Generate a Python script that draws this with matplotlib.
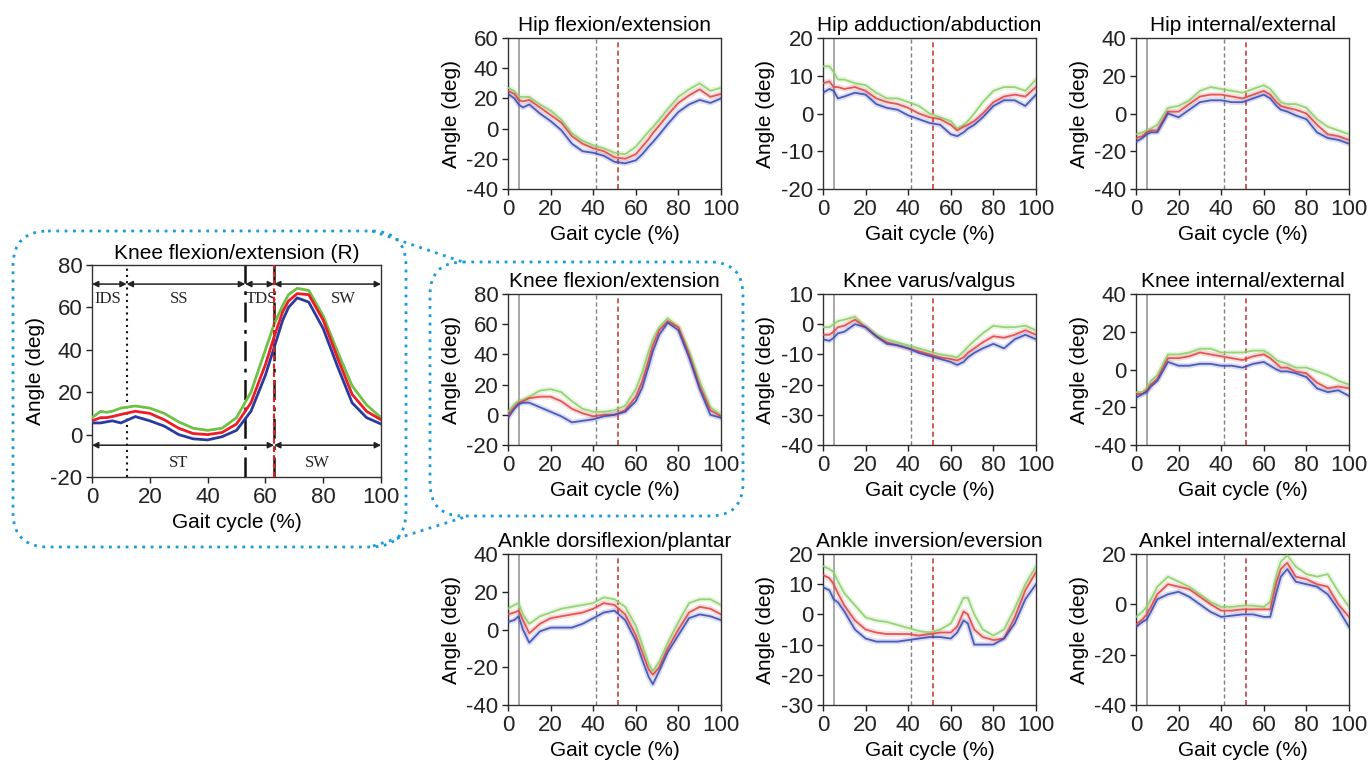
import matplotlib
matplotlib.use('Agg')
import matplotlib.pyplot as plt
from matplotlib.patches import FancyBboxPatch

plt.rcParams['font.family'] = ['Liberation Sans', 'DejaVu Sans']
plt.rcParams['axes.unicode_minus'] = False
plt.rcParams['font.size'] = 15

# ---------------- data ----------------
gait_pct = [0, 3, 5, 7, 10, 15, 20, 25, 30, 35, 40, 45, 50, 55, 60, 63, 66, 68, 71, 75, 80, 85, 90, 95, 100]

# detail panel: Knee flexion/extension (R)
kneeR_green = [8, 11, 10.5, 11, 12.5, 13.5, 12.5, 10, 6, 3, 2, 3, 8, 20, 40, 52, 61, 66, 69, 68, 56, 39, 23, 14, 8]
kneeR_red = [6.5, 8, 8, 8.5, 9.5, 11, 10, 7, 3, 0.5, 0, 1, 5, 15, 33, 46, 58, 63, 66.5, 66, 54, 36, 19, 11, 7]
kneeR_blue = [5.5, 5.5, 6, 6.5, 5.5, 8.5, 6.5, 4, 0, -2, -2.5, -1, 2, 11, 28, 41, 54, 60, 64.5, 62.5, 50, 32, 15, 8, 5]
kneeR_events = [12, 53, 63]
phase_top_bounds = [0, 12, 53, 63, 100]
phase_top_labels = ['IDS', 'SS', 'TDS', 'SW']
phase_top_label_x = [5.5, 30, 58.5, 87]
phase_bot_bounds = [0, 63, 100]
phase_bot_labels = ['ST', 'SW']
phase_bot_label_x = [30, 78]

# small panels
hip_flex_green = [27, 25, 21, 21, 21, 16, 12, 6, -3, -8, -11, -13, -16, -17, -12, -7, -2, 1, 6, 13, 21, 26, 30, 25, 27]
hip_flex_red = [25, 23, 19, 18, 19, 14, 9, 4, -5, -10, -13, -15, -19, -20, -17, -12, -7, -3, 2, 9, 17, 22, 26, 21, 23]
hip_flex_blue = [23, 20, 16, 14, 16, 10, 5, -1, -10, -15, -16, -18, -22, -23, -21, -17, -12, -9, -4, 3, 11, 16, 19, 17, 20]

hip_add_green = [12.5, 12.5, 11, 9, 9, 8, 7.5, 5.5, 4, 4, 3, 2, 0, -1, -2, -4, -3, -2, 0, 3, 6, 7, 7, 6, 9]
hip_add_red = [8, 8.5, 7, 7, 6.5, 7, 6, 4, 3, 2.5, 1.5, 0, -1, -1.5, -3, -4.5, -3.5, -3, -2, 0, 3, 4.5, 5, 4.5, 7]
hip_add_blue = [5.5, 6.5, 6, 4, 4.5, 5.5, 5, 2.5, 1.5, 1, -0.5, -1.5, -2.5, -3, -5.5, -6, -5, -4, -3, -1, 2, 3.5, 3.5, 2, 5]

hip_int_green = [-11, -10, -9, -8, -6, 3, 4, 7, 12, 14, 13, 12, 11, 13, 15, 13, 9, 6, 5, 5, 3, -3, -7, -9, -11]
hip_int_red = [-13, -12, -10, -9, -9, 1, 1, 5, 9, 10, 10, 9, 8, 10, 12, 10, 6, 4, 3, 2, 0, -6, -11, -12, -14]
hip_int_blue = [-15, -13, -11, -10, -10, 0, -2, 2, 6, 7, 7, 6, 6, 8, 10, 8, 4, 2, 1, -1, -3, -10, -13, -14, -16]

knee_flex_green = [2, 7, 9, 10, 12, 16, 17, 15, 9, 4, 2, 2, 3, 6, 17, 28, 42, 50, 58, 64, 58, 42, 22, 5, 0]
knee_flex_red = [0, 5, 8, 9, 11, 12, 12, 9, 4, 1, -1, 0, 0, 3, 12, 22, 36, 46, 56, 62, 58, 40, 19, 3, -1]
knee_flex_blue = [-2, 4, 7, 8, 8, 5, 2, -1, -5, -4, -3, -1, 0, 2, 9, 18, 32, 42, 53, 61, 56, 38, 17, 0, -2]

knee_var_green = [-1, -1, 0, 1, 1.5, 2.5, -1, -3.5, -5, -6, -7, -8, -9, -10, -10.5, -11, -9, -7.5, -5.5, -3, -0.5, -1, -1, -0.5, -2]
knee_var_red = [-3.5, -3.5, -2.5, -1, -0.5, 1.5, -1, -4, -6, -7, -8, -9, -10, -11, -11.5, -12, -11, -9.5, -8, -6, -4, -4.5, -3.5, -2, -3.5]
knee_var_blue = [-5, -5.5, -4.5, -3, -2.5, 0, -1, -4, -6.5, -7, -8, -9.5, -10.5, -11.5, -12.5, -13.5, -12.5, -11, -9.5, -8, -6.5, -8, -5, -3.5, -5]

knee_int_green = [-12, -12, -10, -6, -3, 8, 8, 9, 11, 11, 9, 9, 9, 10, 10, 8, 5, 4, 3, 1, 1, -1, -3, -6, -8]
knee_int_red = [-13, -13, -11, -8, -5, 6, 6, 7, 9, 8, 7, 6, 5, 7, 8, 6, 3, 1, 1, -1, -2, -7, -10, -9, -10]
knee_int_blue = [-15, -13, -12, -9, -6, 4, 2, 2, 3, 3, 2, 2, 1, 3, 4, 2, 0, -1, -1, -2, -4, -10, -12, -11, -14]

ankle_df_green = [11, 13, 14, 8, 3, 7, 9, 11, 12, 13, 14, 17, 16, 12, 2, -8, -18, -22, -17, -7, 4, 14, 16, 16, 13]
ankle_df_red = [8, 9, 10, 5, -2, 3, 6, 7, 8, 9, 11, 14, 13, 8, -3, -12, -21, -24, -20, -10, 0, 9, 12, 11, 8]
ankle_df_blue = [4, 5, 7, 0, -7, -1, 1, 1, 1, 3, 6, 9, 10, 5, -6, -16, -25, -29, -22, -12, -3, 6, 8, 7, 5]

ankle_inv_green = [16, 15, 14, 11, 7, 3, -1, -2, -2.5, -3.5, -4.5, -5.5, -6, -5, -3, 1, 5.5, 5.5, 0, -5, -7, -5, 2, 10, 16]
ankle_inv_red = [13, 12, 10, 7, 3, -2, -5, -6, -6.5, -6.5, -6.5, -7, -6.5, -6, -6, -4, 1, 0, -5, -7.5, -8.5, -8, -1, 8, 14]
ankle_inv_blue = [9, 8, 5, 4, 1, -5, -8, -9, -9, -9, -8.5, -8, -7.5, -7.5, -8, -6, -2, -3, -10, -10, -10, -8, -3, 5, 10]

ankle_int_green = [-5, -3, -1, 2, 7, 11, 9, 7, 4, 1, -1, -1, -0.5, -0.5, -1, 1, 12, 17, 19.5, 15, 12, 11, 12, 5, -1]
ankle_int_red = [-8, -6, -4, -1, 4, 8, 7, 6, 3, 0, -2.5, -2.5, -2, -2, -2, -2, 9, 14, 16.5, 11, 10, 8, 7, 0, -5]
ankle_int_blue = [-9, -7, -6, -3, 2, 4, 5, 3, 0, -3, -5, -4.5, -4, -4, -5, -5, 5, 11, 14, 9, 8, 7, 4, -2, -9]

event_pct = [5, 41.5, 51.5]

titles = ['Hip flexion/extension', 'Hip adduction/abduction', 'Hip internal/external',
          'Knee flexion/extension', 'Knee varus/valgus', 'Knee internal/external',
          'Ankle dorsiflexion/plantar', 'Ankle inversion/eversion', 'Ankel internal/external']
series = [
    (hip_flex_green, hip_flex_red, hip_flex_blue),
    (hip_add_green, hip_add_red, hip_add_blue),
    (hip_int_green, hip_int_red, hip_int_blue),
    (knee_flex_green, knee_flex_red, knee_flex_blue),
    (knee_var_green, knee_var_red, knee_var_blue),
    (knee_int_green, knee_int_red, knee_int_blue),
    (ankle_df_green, ankle_df_red, ankle_df_blue),
    (ankle_inv_green, ankle_inv_red, ankle_inv_blue),
    (ankle_int_green, ankle_int_red, ankle_int_blue),
]
ylims = [(-40, 60), (-20, 20), (-40, 40),
         (-20, 80), (-40, 10), (-40, 40),
         (-40, 40), (-30, 20), (-40, 20)]
ysteps = [20, 10, 20, 20, 10, 20, 20, 10, 20]

# ---------------- figure ----------------
W, H = 1368, 765
fig = plt.figure(figsize=(W / 100, H / 100), dpi=100)

col_left = [508, 823, 1136]
col_w = 213
row_top = [38, 294, 554]
row_h = 151

small_cols = ['#8fd06c', '#e04848', '#3c4db6']


def style_axes(ax):
    for s in ax.spines.values():
        s.set_linewidth(1.0)
        s.set_color('#333333')
    ax.tick_params(direction='out', length=4, width=1, labelsize=16, pad=3,
                   colors='#222222')
    ax.set_xlim(0, 100)
    ax.set_xticks(range(0, 101, 20))
    ax.set_xlabel('Gait cycle (%)', fontsize=15, labelpad=4)
    ax.set_ylabel('Angle (deg)', fontsize=15, labelpad=4)


for i in range(9):
    r, c = divmod(i, 3)
    ax = fig.add_axes([col_left[c] / W, 1 - (row_top[r] + row_h) / H, col_w / W, row_h / H])
    style_axes(ax)
    lo, hi = ylims[i]
    ax.set_ylim(lo, hi)
    ax.set_yticks(range(lo, hi + 1, ysteps[i]))
    ax.set_title(titles[i], fontsize=15, pad=5)
    ax.axvline(event_pct[0], color='#a0a0a0', lw=1.3, zorder=1)
    ax.axvline(event_pct[1], color='#808080', lw=1.0, ls=(0, (3, 2)), zorder=1)
    ax.axvline(event_pct[2], color='#c8403c', lw=1.2, ls=(0, (3, 2)), zorder=1)
    for vals, col in zip(series[i], small_cols):
        ax.plot(gait_pct, vals, color=col, lw=4, alpha=0.18, solid_capstyle='round', zorder=2)
        ax.plot(gait_pct, vals, color=col, lw=1.3, alpha=0.9, zorder=3)

# detail panel
axd = fig.add_axes([92 / W, 1 - 477 / H, 289 / W, 212 / H])
style_axes(axd)
axd.set_ylim(-20, 80)
axd.set_yticks(range(-20, 81, 20))
axd.set_title('Knee flexion/extension (R)', fontsize=15, pad=4)
axd.axvline(kneeR_events[0], color='#111111', lw=1.5, ls=(0, (1, 2)), zorder=1)
axd.axvline(kneeR_events[1], color='#111111', lw=1.8, ls=(0, (8, 3, 1.5, 3)), zorder=1)
axd.axvline(kneeR_events[2], color='#111111', lw=1.8, ls=(0, (8, 3, 1.5, 3)), zorder=1)
axd.axvline(kneeR_events[2], color='#e02020', lw=1.5, ls=(0, (2.5, 1.5)), zorder=4)
for vals, col in zip((kneeR_green, kneeR_red, kneeR_blue), ('#6fc045', '#ee1c24', '#2b3a9e')):
    axd.plot(gait_pct, vals, color=col, lw=2.0, zorder=3)

arrow_kw = dict(arrowstyle='<|-|>', color='#222222', lw=1.1, mutation_scale=9,
                shrinkA=0, shrinkB=0)
for a, b in zip(phase_top_bounds[:-1], phase_top_bounds[1:]):
    axd.annotate('', xy=(b, 71), xytext=(a, 71), arrowprops=arrow_kw)
for a, b in zip(phase_bot_bounds[:-1], phase_bot_bounds[1:]):
    axd.annotate('', xy=(b, -5), xytext=(a, -5), arrowprops=arrow_kw)
serif = ['Liberation Serif', 'DejaVu Serif']
for lab, x in zip(phase_top_labels, phase_top_label_x):
    axd.text(x, 64, lab, family=serif, fontsize=12, ha='center', va='center', color='#222222')
for lab, x in zip(phase_bot_labels, phase_bot_label_x):
    axd.text(x, -13.5, lab, family=serif, fontsize=12, ha='center', va='center', color='#222222')

# overlay with dotted callout boxes
axo = fig.add_axes([0, 0, 1, 1], zorder=10)
axo.patch.set_alpha(0)
axo.axis('off')
dot_kw = dict(fill=False, edgecolor='#1a9ad6', lw=2.0, ls=(0, (1, 2)))
axo.add_patch(FancyBboxPatch((13, 231), 393, 316, boxstyle='round,pad=0,rounding_size=35', **dot_kw))
axo.add_patch(FancyBboxPatch((430, 262), 313, 254, boxstyle='round,pad=0,rounding_size=33', **dot_kw))
axo.plot([372, 463], [231, 262], color='#1a9ad6', lw=2.0, ls=(0, (1, 2)))
axo.plot([373, 468], [546, 516], color='#1a9ad6', lw=2.0, ls=(0, (1, 2)))
axo.set_xlim(0, W)
axo.set_ylim(H, 0)

fig.savefig('out.png', dpi=100)
